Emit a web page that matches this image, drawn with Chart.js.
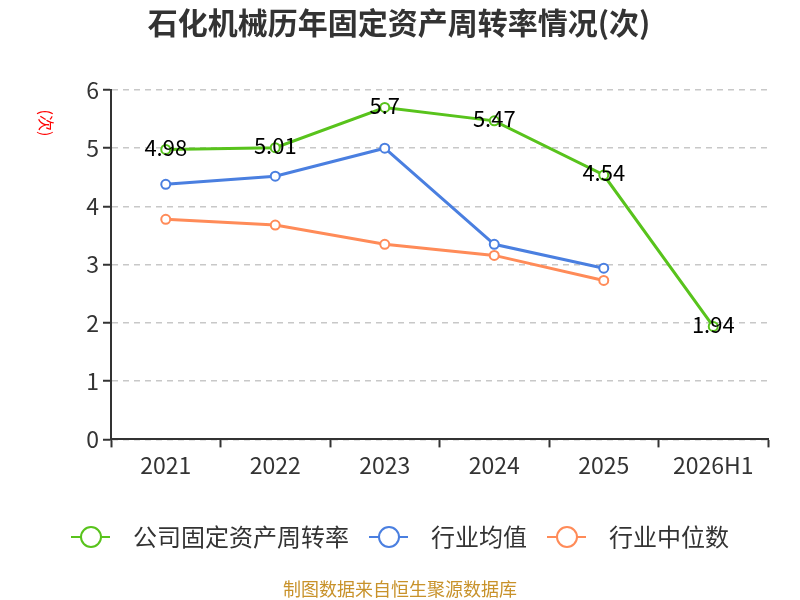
<!DOCTYPE html>
<html lang="zh">
<head>
    <meta charset="UTF-8">
    <title>石化机械历年固定资产周转率情况</title>
    <script src="https://cdn.jsdelivr.net/npm/chart.js"></script>
    <style>
        html, body { margin: 0; padding: 0; background: #fff; }
        #wrap { width: 800px; height: 600px; }
    </style>
</head>
<body>
<div id="wrap"><canvas id="turnoverChart"></canvas></div>
<script>
    // values
    const years = ['2021', '2022', '2023', '2024', '2025', '2026H1'];
    const companyRate = [4.98, 5.01, 5.7, 5.47, 4.54, 1.94];
    const industryAvg = [4.38, 4.52, 5.00, 3.35, 2.94, null];
    const industryMedian = [3.78, 3.68, 3.35, 3.16, 2.73, null];
    const seriesNames = ['公司固定资产周转率', '行业均值', '行业中位数'];
    const seriesColors = ['#58c31c', '#4a7fe0', '#ff8b58'];

    const FONT = '"Noto Sans CJK SC", "Noto Sans", sans-serif';

    // legend icon: short line with a hollow circle, transparent space on the right
    function legendIcon(color) {
        const c = document.createElement('canvas');
        c.width = 50; c.height = 24;
        const g = c.getContext('2d');
        g.strokeStyle = color;
        g.lineWidth = 2;
        g.beginPath(); g.moveTo(0, 12); g.lineTo(39, 12); g.stroke();
        g.beginPath(); g.arc(20, 12, 10, 0, Math.PI * 2);
        g.fillStyle = '#fff'; g.fill(); g.stroke();
        return c;
    }

    // title, data labels on the company line, y-axis unit, source note
    const extras = {
        id: 'extras',
        afterDatasetsDraw(chart) {
            const ctx = chart.ctx;
            const meta = chart.getDatasetMeta(0);
            ctx.save();
            ctx.font = '22px ' + FONT;
            ctx.fillStyle = '#000';
            ctx.textAlign = 'center';
            ctx.textBaseline = 'middle';
            meta.data.forEach((pt, i) => {
                ctx.fillText(String(companyRate[i]), pt.x, pt.y - 2);
            });
            ctx.restore();
        },
        afterDraw(chart) {
            const ctx = chart.ctx;
            ctx.save();
            ctx.font = 'bold 30px ' + FONT;
            ctx.fillStyle = '#333';
            ctx.textAlign = 'center';
            ctx.textBaseline = 'middle';
            ctx.fillText('石化机械历年固定资产周转率情况(次)', 399, 23);
            ctx.restore();

            ctx.save();
            ctx.translate(46, 123);
            ctx.rotate(Math.PI / 2);
            ctx.font = '16px ' + FONT;
            ctx.fillStyle = '#ff0000';
            ctx.textAlign = 'center';
            ctx.textBaseline = 'middle';
            ctx.fillText('(次)', 0, 0);
            ctx.restore();

            ctx.save();
            ctx.font = '18px ' + FONT;
            ctx.fillStyle = '#c8922a';
            ctx.textAlign = 'center';
            ctx.textBaseline = 'middle';
            ctx.fillText('制图数据来自恒生聚源数据库', 400, 589);
            ctx.restore();
        }
    };

    const mkSet = (i, data) => ({
        label: seriesNames[i],
        data: data,
        borderColor: seriesColors[i],
        backgroundColor: '#fff',
        borderWidth: 3,
        pointRadius: 4.5,
        pointBorderWidth: 2,
        pointBackgroundColor: '#fff',
        pointBorderColor: seriesColors[i],
        tension: 0,
        spanGaps: false
    });

    new Chart(document.getElementById('turnoverChart'), {
        type: 'line',
        data: {
            labels: years,
            datasets: [mkSet(0, companyRate), mkSet(1, industryAvg), mkSet(2, industryMedian)]
        },
        options: {
            responsive: true,
            maintainAspectRatio: false,
            animation: false,
            layout: { padding: { left: 32, right: 32, top: 90, bottom: 41 } },
            plugins: {
                title: { display: false },
                legend: {
                    position: 'bottom',
                    labels: {
                        usePointStyle: true,
                        pointStyleWidth: 50,
                        color: '#333',
                        font: { family: FONT, size: 24 },
                        padding: 20,
                        generateLabels(chart) {
                            return chart.data.datasets.map((ds, i) => ({
                                text: ds.label,
                                pointStyle: legendIcon(seriesColors[i]),
                                fontColor: '#333',
                                lineWidth: 0,
                                datasetIndex: i,
                                hidden: false
                            }));
                        }
                    }
                },
                tooltip: { enabled: false }
            },
            scales: {
                x: {
                    offset: true,
                    afterFit(scale) { scale.height += 22; },
                    grid: {
                        offset: true,
                        drawOnChartArea: false,
                        drawTicks: true,
                        tickLength: 8,
                        tickColor: '#333',
                        tickWidth: 2
                    },
                    border: { color: '#333', width: 2 },
                    ticks: { color: '#333', font: { family: FONT, size: 23 }, padding: 4 }
                },
                y: {
                    min: 0,
                    max: 6,
                    afterFit(scale) { scale.width = 79; },
                    ticks: { stepSize: 1, color: '#333', font: { family: FONT, size: 23 }, padding: 4 },
                    grid: {
                        color: '#c8c8c8',
                        lineWidth: 1.5,
                        tickLength: 8,
                        tickColor: '#333',
                        tickWidth: 2,
                        tickBorderDash: []
                    },
                    border: { color: '#333', width: 2, dash: [6, 5] }
                }
            }
        },
        plugins: [extras]
    });
</script>
</body>
</html>
